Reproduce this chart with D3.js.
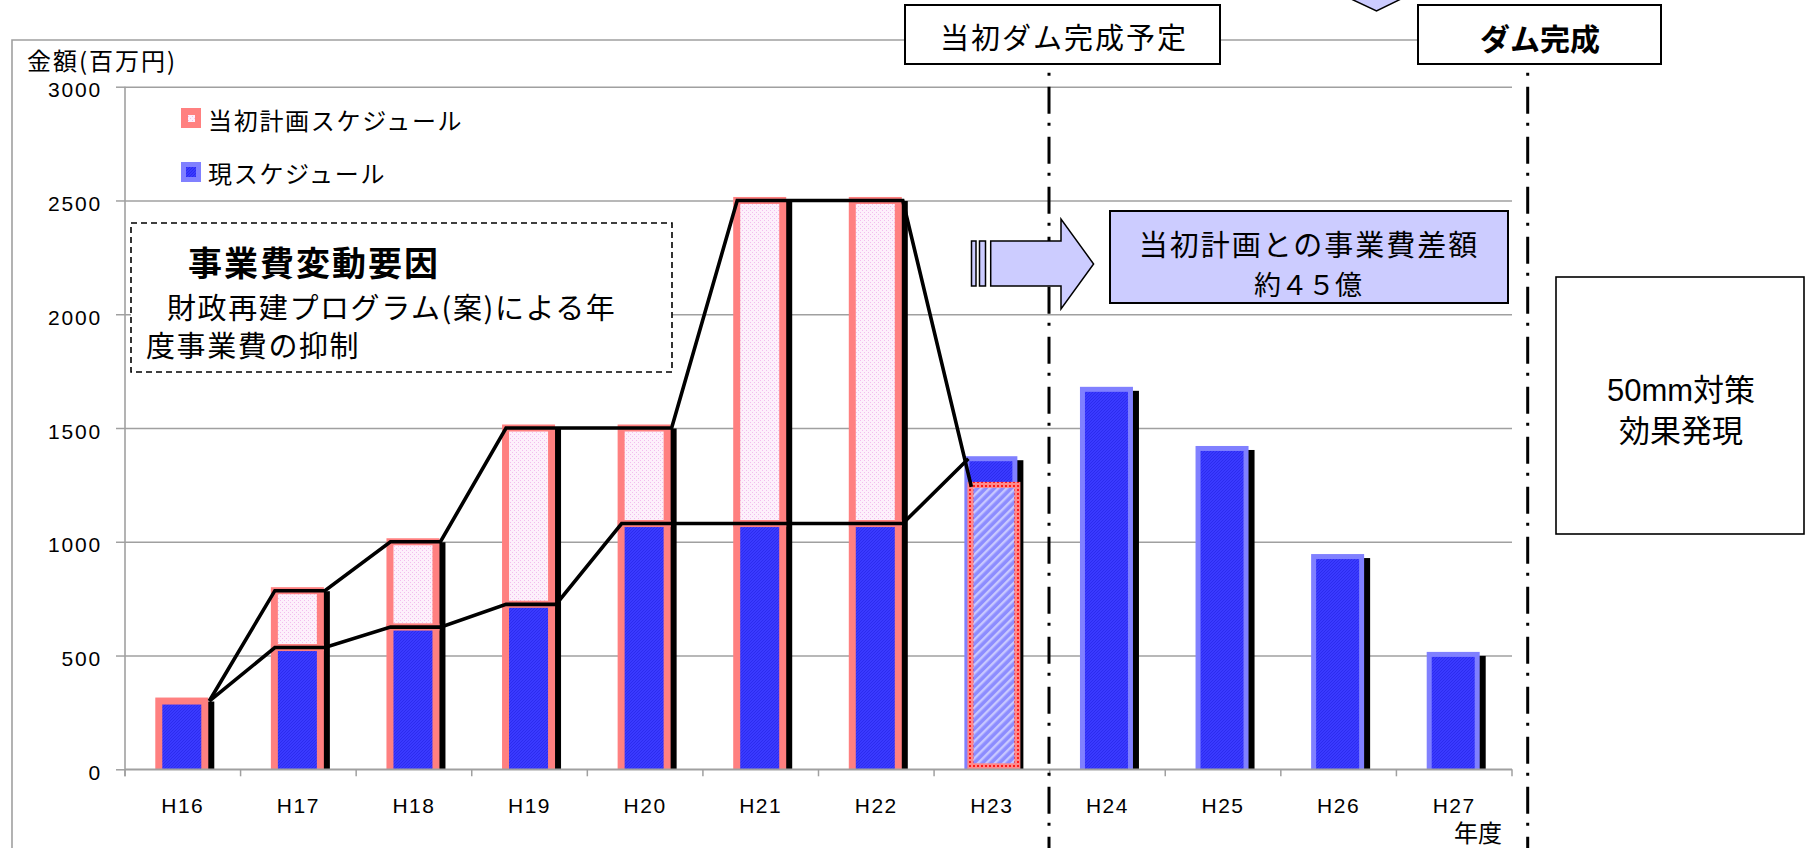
<!DOCTYPE html>
<html>
<head>
<meta charset="utf-8">
<script src="https://cdn.jsdelivr.net/npm/d3@7"></script>
<style>
  html, body { margin: 0; padding: 0; background: #fff; }
  svg { display: block; }
  text { font-family: "Liberation Sans", "Noto Sans CJK JP", sans-serif; fill: #000; }
  .jp { font-family: "Noto Sans CJK JP", "Liberation Sans", sans-serif; }
  .mix { font-family: "Liberation Sans", "Noto Sans CJK JP", sans-serif; }
</style>
</head>
<body>
<svg id="chart" width="1807" height="848"></svg>
<script>
// ---- data (百万円) ----
const categories = ["H16", "H17", "H18", "H19", "H20", "H21", "H22", "H23", "H24", "H25", "H26", "H27"];
const plannedValues = [300, 785, 1000, 1500, 1500, 2500, 2500, 1250, null, null, null, null];
const currentValues = [300, 535, 625, 725, 1080, 1080, 1080, 1365, 1670, 1410, 935, 505];
const yTicks = [0, 500, 1000, 1500, 2000, 2500, 3000];
const seriesNames = ["当初計画スケジュール", "現スケジュール"];
const yTitle = "金額(百万円)";
const xTitle = "年度";

const svg = d3.select("#chart");
const plot = { left: 125, right: 1512, top: 86.7, bottom: 769.3 };

const x = d3.scaleBand().domain(categories).range([plot.left, plot.right]).padding(0);
const y = d3.scaleLinear().domain([0, 3000]).range([plot.bottom, plot.top]);

const PINK = "#ff8080", LIGHTBLUE = "#8080ff", LILAC = "#ccccff", GRID = "#a0a0a0";

// ---- fill patterns ----
const defs = svg.append("defs");
const pale = defs.append("pattern").attr("id", "paleFill").attr("patternUnits", "userSpaceOnUse")
  .attr("width", 4).attr("height", 4);
pale.append("rect").attr("width", 4).attr("height", 4).attr("fill", "#fdf0fb");
pale.append("rect").attr("x", 0).attr("y", 0).attr("width", 1).attr("height", 1).attr("fill", "#f2bdee");
pale.append("rect").attr("x", 2).attr("y", 2).attr("width", 1).attr("height", 1).attr("fill", "#f2bdee");

const blue = defs.append("pattern").attr("id", "blueFill").attr("patternUnits", "userSpaceOnUse")
  .attr("width", 3).attr("height", 3);
blue.append("rect").attr("width", 3).attr("height", 3).attr("fill", "#3a3aff");
blue.append("path").attr("d", "M0,3 L3,0").attr("stroke", "#2828ea").attr("stroke-width", 0.8);

const hatch = defs.append("pattern").attr("id", "hatchFill").attr("patternUnits", "userSpaceOnUse")
  .attr("width", 6).attr("height", 6).attr("patternTransform", "rotate(45)");
hatch.append("rect").attr("width", 6).attr("height", 6).attr("fill", "#8c8cff");
hatch.append("rect").attr("width", 2.4).attr("height", 6).attr("fill", "#c8c8ff");

const dots = defs.append("pattern").attr("id", "redDots").attr("patternUnits", "userSpaceOnUse")
  .attr("width", 4).attr("height", 4);
dots.append("rect").attr("width", 4).attr("height", 4).attr("fill", "#ff8a8a");
dots.append("rect").attr("x", 1).attr("y", 1).attr("width", 2).attr("height", 2).attr("fill", "#ff1a1a");

defs.append("clipPath").attr("id", "plotClip")
  .append("rect").attr("x", 0).attr("y", 0).attr("width", 1807).attr("height", plot.bottom);

// ---- outer frame and milestone connector ----
svg.append("path")
  .attr("d", `M12,848 V40 H905 M1220,40 H1418`)
  .attr("fill", "none").attr("stroke", GRID).attr("stroke-width", 1.6);

// ---- gridlines ----
const grid = svg.append("g").attr("transform", `translate(${plot.left},0)`)
  .call(d3.axisLeft(y).tickValues(yTicks).tickSize(-(plot.right - plot.left)).tickFormat(""));
grid.select(".domain").remove();
grid.selectAll("line").attr("stroke", GRID).attr("stroke-width", 1.5);

// ---- bars ----
const rows = categories.map((c, i) => {
  const cx = x(c) + x.bandwidth() / 2;
  const p = plannedValues[i], v = currentValues[i];
  return { c, i, cx, left: cx - 27.5, p, v,
           stacked: p != null && p >= v, overlay: p != null && p < v };
});
const OW = 53; // outer bar width including stroke

const barLayer = svg.append("g").attr("clip-path", "url(#plotClip)");

// drop shadows
barLayer.selectAll("rect.shadow").data(rows).join("rect")
  .attr("class", "shadow")
  .attr("x", d => d.left + 6)
  .attr("y", d => d.stacked ? y(d.p) - 3.5 + 4 : y(d.v) - 2.5 + 4)
  .attr("width", OW)
  .attr("height", d => plot.bottom - (d.stacked ? y(d.p) - 3.5 + 4 : y(d.v) - 2.5 + 4) + 5)
  .attr("fill", "#000");

// planned schedule: current part (blue) stacked with the remaining planned part (pale pink)
const stackedRows = rows.filter(d => d.stacked);
barLayer.selectAll("rect.planTop").data(stackedRows.filter(d => d.p > d.v)).join("rect")
  .attr("class", "planTop")
  .attr("x", d => d.left + 3.5).attr("width", OW - 7)
  .attr("y", d => y(d.p)).attr("height", d => y(d.v) - y(d.p))
  .attr("fill", "url(#paleFill)").attr("stroke", PINK).attr("stroke-width", 7);
barLayer.selectAll("rect.planBase").data(stackedRows).join("rect")
  .attr("class", "planBase")
  .attr("x", d => d.left + 3.5).attr("width", OW - 7)
  .attr("y", d => y(d.v)).attr("height", d => plot.bottom - y(d.v) + 6)
  .attr("fill", "url(#blueFill)").attr("stroke", PINK).attr("stroke-width", 7);

// current schedule only
barLayer.selectAll("rect.current").data(rows.filter(d => !d.stacked)).join("rect")
  .attr("class", "current")
  .attr("x", d => d.left + 2.5).attr("width", OW - 5)
  .attr("y", d => y(d.v)).attr("height", d => plot.bottom - y(d.v) + 6)
  .attr("fill", "url(#blueFill)").attr("stroke", LIGHTBLUE).attr("stroke-width", 5);

// planned amount shown over a larger current amount
barLayer.selectAll("rect.overlay").data(rows.filter(d => d.overlay)).join("rect")
  .attr("class", "overlay")
  .attr("x", d => d.left + 6).attr("width", OW - 6)
  .attr("y", d => y(d.p)).attr("height", d => plot.bottom - y(d.p) - 3)
  .attr("fill", "url(#hatchFill)").attr("stroke", "url(#redDots)").attr("stroke-width", 6);

// ---- axes ----
const yAxis = svg.append("g").attr("transform", `translate(${plot.left},0)`)
  .call(d3.axisLeft(y).tickValues(yTicks).tickFormat(d3.format("d"))
    .tickSize(9).tickPadding(14).tickSizeOuter(0));
yAxis.select(".domain").attr("stroke", GRID).attr("stroke-width", 1.6)
  .attr("d", `M0,${plot.top}V${plot.bottom + 7}`);
yAxis.selectAll(".tick line").attr("stroke", GRID).attr("stroke-width", 1.5);
yAxis.selectAll(".tick text")
  .attr("font-family", "Liberation Sans, sans-serif").attr("font-size", 21)
  .attr("letter-spacing", 1.8).attr("dy", "0.48em").attr("fill", "#000");

const xAxis = svg.append("g").attr("transform", `translate(0,${plot.bottom})`)
  .call(d3.axisBottom(x).tickSize(0).tickPadding(0).tickSizeOuter(0));
xAxis.select(".domain").attr("stroke", GRID).attr("stroke-width", 1.6)
  .attr("d", `M${plot.left},0H${plot.right}`);
xAxis.selectAll(".tick text")
  .attr("font-family", "Liberation Sans, sans-serif").attr("font-size", 21)
  .attr("letter-spacing", 1.5).attr("y", 36).attr("dy", "0.35em").attr("fill", "#000");
// category boundary ticks
xAxis.selectAll("line.sep")
  .data(categories.map(c => x(c) + x.step()).concat([plot.left]))
  .join("line").attr("class", "sep")
  .attr("x1", d => d).attr("x2", d => d).attr("y1", 0).attr("y2", 7)
  .attr("stroke", GRID).attr("stroke-width", 1.5);

svg.append("text").attr("class", "jp").attr("x", 1502).attr("y", 831)
  .attr("text-anchor", "end").attr("dominant-baseline", "central")
  .attr("font-size", 24).text(xTitle);

svg.append("text").attr("class", "jp").attr("x", 27).attr("y", 59)
  .attr("dominant-baseline", "central").attr("font-size", 24).attr("letter-spacing", 2)
  .text(yTitle);

// ---- connecting lines over the bar tops ----
const lastPlanned = d3.max(rows.filter(d => d.p != null), d => d.i);
function tracePoints(key) {
  const pts = [];
  rows.filter(d => d.i <= lastPlanned).forEach(d => {
    const val = d[key];
    const right = d.left + OW + 1;
    if (d.i === 0) {
      pts.push([right, y(val)]);
    } else if (d.i === lastPlanned) {
      const lx = d.left + (key === "p" && d.overlay ? 7 : 4);
      pts.push([lx, y(val) + (key === "p" && d.overlay ? 2 : 0)]);
    } else {
      pts.push([d.left + 4, y(val)], [right, y(val)]);
    }
  });
  return pts;
}
const lineGen = d3.line();
["p", "v"].forEach(key => {
  svg.append("path").attr("d", lineGen(tracePoints(key)))
    .attr("fill", "none").attr("stroke", "#000").attr("stroke-width", 3.6)
    .attr("stroke-linejoin", "miter");
});

// ---- legend ----
const legend = svg.append("g");
legend.append("rect").attr("x", 181).attr("y", 108).attr("width", 20).attr("height", 20).attr("fill", PINK);
legend.append("rect").attr("x", 188).attr("y", 115).attr("width", 7).attr("height", 7).attr("fill", "url(#paleFill)");
legend.append("rect").attr("x", 181).attr("y", 162).attr("width", 20).attr("height", 20).attr("fill", LIGHTBLUE);
legend.append("rect").attr("x", 186).attr("y", 167).attr("width", 10).attr("height", 10).attr("fill", "url(#blueFill)");
legend.selectAll("text").data(seriesNames).join("text")
  .attr("class", "jp").attr("x", 208).attr("y", (d, i) => i === 0 ? 119 : 172)
  .attr("dominant-baseline", "central").attr("font-size", 24).attr("letter-spacing", 1.7)
  .text(d => d);

// ---- note box: cause of cost change ----
svg.append("rect").attr("x", 131).attr("y", 223).attr("width", 541).attr("height", 149)
  .attr("fill", "#fff").attr("stroke", "#000").attr("stroke-width", 1.6)
  .attr("stroke-dasharray", "6 4");
svg.append("text").attr("class", "jp").attr("x", 188).attr("y", 261)
  .attr("dominant-baseline", "central").attr("font-size", 34).attr("font-weight", 700)
  .attr("letter-spacing", 2).text("事業費変動要因");
svg.append("text").attr("class", "jp").attr("x", 167).attr("y", 306)
  .attr("dominant-baseline", "central").attr("font-size", 29).attr("letter-spacing", 1.6)
  .text("財政再建プログラム(案)による年");
svg.append("text").attr("class", "jp").attr("x", 146).attr("y", 344)
  .attr("dominant-baseline", "central").attr("font-size", 29).attr("letter-spacing", 1.6)
  .text("度事業費の抑制");

// ---- milestone dash-dot lines ----
[1049, 1527.7].forEach(mx => {
  svg.append("line").attr("x1", mx).attr("x2", mx).attr("y1", 66).attr("y2", 848)
    .attr("stroke", "#000").attr("stroke-width", 3)
    .attr("stroke-dasharray", "27 9 3 11").attr("stroke-dashoffset", 29.3);
});

// ---- milestone boxes ----
svg.append("rect").attr("x", 905).attr("y", 5).attr("width", 315).attr("height", 59)
  .attr("fill", "#fff").attr("stroke", "#000").attr("stroke-width", 2);
svg.append("text").attr("class", "jp").attr("x", 1064).attr("y", 36)
  .attr("text-anchor", "middle").attr("dominant-baseline", "central")
  .attr("font-size", 29).attr("letter-spacing", 2).text("当初ダム完成予定");

svg.append("rect").attr("x", 1418).attr("y", 5).attr("width", 243).attr("height", 59)
  .attr("fill", "#fff").attr("stroke", "#000").attr("stroke-width", 2);
svg.append("text").attr("class", "jp").attr("x", 1540).attr("y", 37)
  .attr("text-anchor", "middle").attr("dominant-baseline", "central")
  .attr("font-size", 30).attr("font-weight", 700).text("ダム完成");

// chevron pointing down at the top edge
svg.append("path").attr("d", "M1349,-2 L1376.5,11 L1403,-2 Z")
  .attr("fill", LILAC).attr("stroke", "#000").attr("stroke-width", 1.5);

// ---- arrow and difference box ----
const arrow = svg.append("g").attr("fill", LILAC).attr("stroke", "#000").attr("stroke-width", 1.5);
arrow.append("rect").attr("x", 971.5).attr("y", 241).attr("width", 4.5).attr("height", 45);
arrow.append("rect").attr("x", 979.5).attr("y", 241).attr("width", 6).attr("height", 45);
arrow.append("path").attr("d", "M990.7,241 H1061 V219 L1093.6,264 L1061,309 V286 H990.7 Z");

svg.append("rect").attr("x", 1110).attr("y", 211).attr("width", 398).attr("height", 92)
  .attr("fill", LILAC).attr("stroke", "#000").attr("stroke-width", 2);
svg.append("text").attr("class", "jp").attr("x", 1309).attr("y", 243)
  .attr("text-anchor", "middle").attr("dominant-baseline", "central")
  .attr("font-size", 29).attr("letter-spacing", 2).text("当初計画との事業費差額");
svg.append("text").attr("class", "jp").attr("x", 1308).attr("y", 283)
  .attr("text-anchor", "middle").attr("dominant-baseline", "central")
  .attr("font-size", 27).text("約４５億");

// ---- effect box ----
svg.append("rect").attr("x", 1556).attr("y", 277).attr("width", 248).attr("height", 257)
  .attr("fill", "#fff").attr("stroke", "#000").attr("stroke-width", 1.6);
svg.append("text").attr("class", "mix").attr("x", 1681).attr("y", 390)
  .attr("text-anchor", "middle").attr("dominant-baseline", "central")
  .attr("font-size", 31).text("50mm対策");
svg.append("text").attr("class", "jp").attr("x", 1681).attr("y", 428)
  .attr("text-anchor", "middle").attr("dominant-baseline", "central")
  .attr("font-size", 31).text("効果発現");
</script>
</body>
</html>
